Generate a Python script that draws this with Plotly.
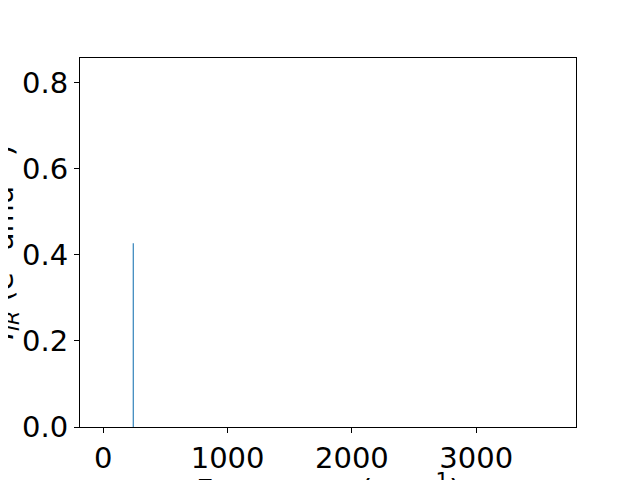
import plotly.graph_objects as go

# Data
frequencies = [241.0]          # cm^-1
intensities = [0.427]          # e^2 amu^-1
x_range = [-187.5, 3803.0]
y_range = [0.0, 0.858]
x_tickvals = [0, 1000, 2000, 3000]
y_tickvals = [0.0, 0.2, 0.4, 0.6, 0.8]

xs, ys = [], []
for f, i in zip(frequencies, intensities):
    xs += [f, f, None]
    ys += [0.0, i, None]

FONT = "DejaVu Sans"
fig = go.Figure()
fig.add_trace(go.Scatter(x=xs, y=ys, mode="lines",
                         line=dict(color="#1f77b4", width=1.1),
                         showlegend=False, hoverinfo="skip"))

axis_common = dict(showline=True, mirror=True, linecolor="black", linewidth=1,
                   ticks="outside", ticklen=5, tickwidth=1, tickcolor="black",
                   showgrid=False, zeroline=False, automargin=False,
                   tickfont=dict(family=FONT, size=29, color="black"))

fig.update_xaxes(range=x_range, tickvals=x_tickvals,
                 ticktext=[str(v) for v in x_tickvals], **axis_common)
fig.update_yaxes(range=y_range, tickvals=y_tickvals,
                 ticktext=[f"{v:.1f}" for v in y_tickvals], **axis_common)

fig.update_layout(
    width=640, height=480,
    margin=dict(l=72, r=72, t=50, b=61, pad=0, autoexpand=False),
    paper_bgcolor="white", plot_bgcolor="white",
    annotations=[
        dict(text="Frequency (cm<sup>−1</sup>)", xref="paper", yref="paper",
             x=0.5, y=0, xanchor="center", yanchor="top", yshift=-41,
             showarrow=False, borderpad=0,
             font=dict(family=FONT, size=30, color="black")),
        dict(text="<i>I</i><sub><i>IR</i></sub> (e<sup>2</sup> amu<sup>−1</sup>)",
             xref="paper", yref="paper", x=0, y=0.5, xanchor="right",
             yanchor="middle", xshift=-56, textangle=-90,
             showarrow=False, borderpad=0,
             font=dict(family=FONT, size=29, color="black")),
    ],
)

fig.write_html("out.html")
